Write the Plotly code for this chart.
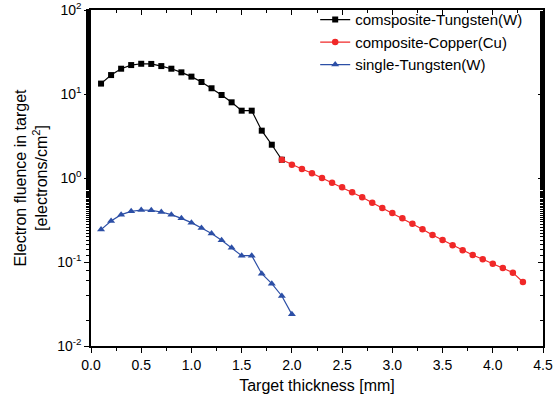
import plotly.graph_objects as go

x_w = [0.1, 0.2, 0.3, 0.4, 0.5, 0.6, 0.7, 0.8, 0.9, 1.0, 1.1, 1.2, 1.3, 1.4, 1.5, 1.6, 1.7, 1.8, 1.9]
y_w = [13.3, 16.8, 20.0, 22.1, 22.9, 22.8, 21.5, 20.0, 18.1, 16.1, 13.9, 11.7, 9.73, 7.96, 6.33, 6.33, 3.66, 2.49, 1.65]

x_cu = [1.9, 2.0, 2.1, 2.2, 2.3, 2.4, 2.5, 2.6, 2.7, 2.8, 2.9, 3.0, 3.1, 3.2, 3.3, 3.4, 3.5,
        3.6, 3.7, 3.8, 3.9, 4.0, 4.1, 4.2, 4.3]
y_cu = [1.65, 1.44, 1.28, 1.14, 1.0, 0.88, 0.774, 0.675, 0.589, 0.508, 0.44, 0.383, 0.331, 0.286,
        0.245, 0.210, 0.183, 0.158, 0.138, 0.121, 0.108, 0.0955, 0.0848, 0.0747, 0.0578]

x_sw = [0.1, 0.2, 0.3, 0.4, 0.5, 0.6, 0.7, 0.8, 0.9, 1.0, 1.1, 1.2, 1.3, 1.4, 1.5, 1.6, 1.7, 1.8, 1.9, 2.0]
y_sw = [0.243, 0.308, 0.366, 0.401, 0.416, 0.412, 0.394, 0.366, 0.331, 0.294, 0.254, 0.219, 0.181,
        0.148, 0.119, 0.119, 0.0726, 0.0552, 0.0394, 0.0238]

names = ["comsposite-Tungsten(W)", "composite-Copper(Cu)", "single-Tungsten(W)"]
x_ticks = [0.0, 0.5, 1.0, 1.5, 2.0, 2.5, 3.0, 3.5, 4.0, 4.5]
x_ticktext = ["0.0", "0.5", "1.0", "1.5", "2.0", "2.5", "3.0", "3.5", "4.0", "4.5"]
y_ticks = [0.01, 0.1, 1, 10, 100]
y_ticktext = ["10<sup>-2</sup>", "10<sup>-1</sup>", "10<sup>0</sup>", "10<sup>1</sup>", "10<sup>2</sup>"]

BLACK = "#000000"
RED = "#f02828"
BLUE = "#2c4fa6"
FONT = "Liberation Sans, Arial, sans-serif"

fig = go.Figure()
fig.add_trace(go.Scatter(x=x_w, y=y_w, name=names[0], mode="lines+markers",
                         line=dict(color=BLACK, width=1.2),
                         marker=dict(symbol="square", size=6, color=BLACK)))
fig.add_trace(go.Scatter(x=x_cu, y=y_cu, name=names[1], mode="lines+markers",
                         line=dict(color=RED, width=1.2),
                         marker=dict(symbol="circle", size=6.5, color=RED)))
fig.add_trace(go.Scatter(x=x_sw, y=y_sw, name=names[2], mode="lines+markers",
                         line=dict(color=BLUE, width=1.2),
                         marker=dict(symbol="triangle-up", size=7, color=BLUE)))
# invisible trace to activate the mirror axes (top / right)
fig.add_trace(go.Scatter(x=[x_ticks[0]], y=[y_ticks[0]], xaxis="x2", yaxis="y2",
                         mode="markers", marker=dict(opacity=0), showlegend=False,
                         hoverinfo="skip"))

fig.update_layout(
    width=560, height=398,
    margin=dict(l=91, r=17, t=10, b=52, autoexpand=False),
    paper_bgcolor="white", plot_bgcolor="white",
    font=dict(family=FONT, size=14, color="black"),
    showlegend=True,
    legend=dict(x=0.496, y=1.02, xanchor="left", yanchor="top",
                bgcolor="rgba(0,0,0,0)", font=dict(size=15, family=FONT),
                tracegroupgap=0, itemwidth=30),
    xaxis=dict(range=[0, 4.5], tickvals=x_ticks, ticktext=x_ticktext, automargin=False,
               ticks="outside", ticklen=5, tickwidth=1.2, tickcolor="black",
               minor=dict(dtick=0.25, ticks="outside", ticklen=3, tickwidth=1, tickcolor="black"),
               showline=True, linecolor="black", linewidth=1.5, mirror=True,
               showgrid=False, zeroline=False,
               tickfont=dict(size=14),
               title=dict(text="Target thickness [mm]", font=dict(size=16), standoff=8)),
    yaxis=dict(type="log", range=[-2, 2], tickvals=y_ticks, ticktext=y_ticktext, automargin=False,
               ticks="outside", ticklen=5, tickwidth=1.2, tickcolor="black",
               minor=dict(ticks="outside", ticklen=3, tickwidth=1, tickcolor="black", showgrid=False),
               showline=True, linecolor="black", linewidth=1.5, mirror=True,
               showgrid=False, zeroline=False,
               tickfont=dict(size=14),
               title=dict(text="Electron fluence in target<br>[electrons/cm<sup>2</sup>]",
                          font=dict(size=16), standoff=6)),
    xaxis2=dict(overlaying="x", side="top", anchor="y", range=[0, 4.5], tickvals=x_ticks,
                automargin=False,
                showticklabels=False, ticks="inside", ticklen=5, tickwidth=1.2, tickcolor="black",
                minor=dict(dtick=0.25, ticks="inside", ticklen=3, tickwidth=1, tickcolor="black"),
                showgrid=False, zeroline=False, showline=False),
    yaxis2=dict(overlaying="y", side="right", anchor="x", type="log", range=[-2, 2],
                automargin=False,
                tickvals=y_ticks, showticklabels=False, ticks="inside", ticklen=5, tickwidth=1.2,
                tickcolor="black",
                minor=dict(ticks="inside", ticklen=3, tickwidth=1, tickcolor="black", showgrid=False),
                showgrid=False, zeroline=False, showline=False),
)

fig.write_html("out.html", config={"displayModeBar": False},
               post_script="document.body.style.margin='0';document.body.style.overflow='hidden';")
